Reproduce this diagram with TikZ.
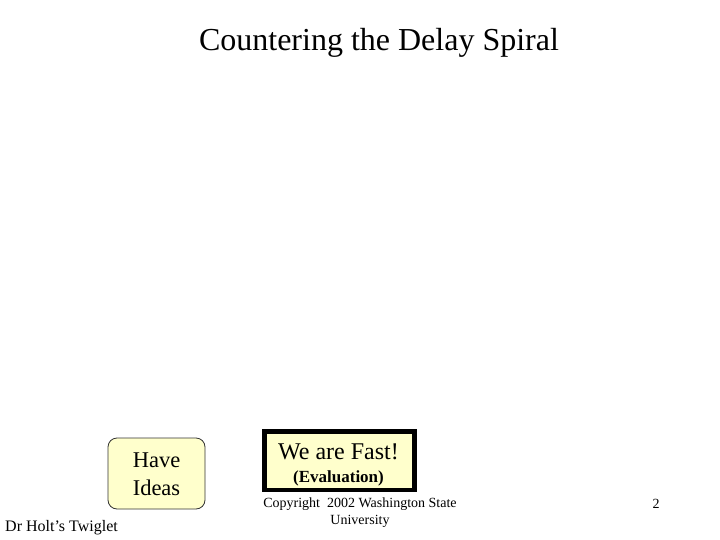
\documentclass[tikz,border=0pt]{standalone}
\usepackage{fontspec}
\setmainfont{Liberation Serif}
\definecolor{paleyellow}{RGB}{255,255,204}
\begin{document}
\begin{tikzpicture}[x=1pt,y=-1pt,
  boxtext/.style={inner sep=0pt,anchor=center},
  plain/.style={inner sep=0pt}]
\useasboundingbox (0,0) rectangle (720,540);
\fill[white] (0,0) rectangle (720,540);
\node[plain,font=\fontsize{32}{36}\selectfont] (title) at (379,43) {Countering the Delay Spiral};
\draw[fill=paleyellow,draw=black!80,line width=0.8pt,rounded corners=9pt] (108,438) rectangle (205,509);
\node[boxtext,font=\fontsize{22.5}{28}\selectfont,align=center] (ideas) at (156.5,474) {Have\\Ideas};
\draw[fill=paleyellow,draw=black,line width=4.5pt] (264.5,431.5) rectangle (414.5,490);
\node[plain,font=\fontsize{24}{28}\selectfont] (fast) at (338.5,452) {We are Fast!};
\node[plain,font=\bfseries\fontsize{17}{20}\selectfont] (eval) at (338.5,478) {(Evaluation)};
\node[plain,font=\fontsize{14}{17}\selectfont,align=center] (copy) at (360,513) {Copyright\ \ 2002 Washington State\\University};
\node[plain,font=\fontsize{16}{18}\selectfont,anchor=west] (holt) at (5,528) {Dr Holt’s Twiglet};
\node[plain,font=\fontsize{14}{16}\selectfont] (num) at (656,504) {2};
\end{tikzpicture}
\end{document}
